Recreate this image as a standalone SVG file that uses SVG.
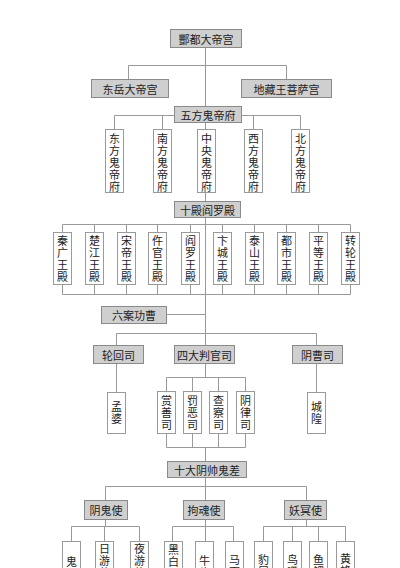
<svg xmlns="http://www.w3.org/2000/svg" width="400" height="568" viewBox="0 0 400 568">
<style>
text{font-family:"Noto Sans CJK SC","Noto Sans CJK TC",sans-serif;font-size:11px;fill:#222;text-anchor:middle;dominant-baseline:central}
text.v{writing-mode:vertical-rl;letter-spacing:1px}
.g{fill:#cfcfcf;stroke:#8a8a8a;stroke-width:1}
.w{fill:#fff;stroke:#9a9a9a;stroke-width:1}
#connectors line,#connectors polyline{stroke:#9a9a9a;stroke-width:1;fill:none}
</style>
<rect width="400" height="568" fill="#fff"/>
<g id="connectors">
<line x1="205.5" y1="47" x2="205.5" y2="106"/>
<polyline points="128.5,79 128.5,65.5 286.5,65.5 286.5,79"/>
<line x1="114.5" y1="115.5" x2="300.5" y2="115.5"/>
<line x1="114.5" y1="115.5" x2="114.5" y2="129"/>
<line x1="162.5" y1="115.5" x2="162.5" y2="129"/>
<line x1="205.5" y1="115.5" x2="205.5" y2="129"/>
<line x1="253.5" y1="115.5" x2="253.5" y2="129"/>
<line x1="300.5" y1="115.5" x2="300.5" y2="129"/>
<line x1="205.5" y1="192" x2="205.5" y2="201"/>
<line x1="205.5" y1="217" x2="205.5" y2="345"/>
<line x1="62.5" y1="224.5" x2="350.5" y2="224.5"/>
<line x1="62.5" y1="294.5" x2="350.5" y2="294.5"/>
<line x1="62.5" y1="224.5" x2="62.5" y2="294.5"/>
<line x1="94.5" y1="224.5" x2="94.5" y2="294.5"/>
<line x1="126.5" y1="224.5" x2="126.5" y2="294.5"/>
<line x1="157.5" y1="224.5" x2="157.5" y2="294.5"/>
<line x1="190.5" y1="224.5" x2="190.5" y2="294.5"/>
<line x1="222.5" y1="224.5" x2="222.5" y2="294.5"/>
<line x1="254.5" y1="224.5" x2="254.5" y2="294.5"/>
<line x1="286.5" y1="224.5" x2="286.5" y2="294.5"/>
<line x1="318.5" y1="224.5" x2="318.5" y2="294.5"/>
<line x1="350.5" y1="224.5" x2="350.5" y2="294.5"/>
<line x1="166" y1="314.5" x2="205.5" y2="314.5"/>
<polyline points="116.5,345 116.5,333.5 316.5,333.5 316.5,345"/>
<line x1="116.5" y1="363" x2="116.5" y2="392"/>
<line x1="316.5" y1="363" x2="316.5" y2="392"/>
<line x1="205.5" y1="363" x2="205.5" y2="377.5"/>
<line x1="166.5" y1="377.5" x2="245.5" y2="377.5"/>
<line x1="166.5" y1="447.5" x2="245.5" y2="447.5"/>
<line x1="166.5" y1="377.5" x2="166.5" y2="447.5"/>
<line x1="192.5" y1="377.5" x2="192.5" y2="447.5"/>
<line x1="218.5" y1="377.5" x2="218.5" y2="447.5"/>
<line x1="245.5" y1="377.5" x2="245.5" y2="447.5"/>
<line x1="205.5" y1="447.5" x2="205.5" y2="461"/>
<line x1="205.5" y1="477" x2="205.5" y2="500"/>
<polyline points="105.5,500 105.5,486.5 306.5,486.5 306.5,500"/>
<line x1="105.5" y1="519" x2="105.5" y2="526.5"/>
<line x1="71.5" y1="526.5" x2="139.5" y2="526.5"/>
<line x1="71.5" y1="526.5" x2="71.5" y2="541"/>
<line x1="104.5" y1="526.5" x2="104.5" y2="541"/>
<line x1="139.5" y1="526.5" x2="139.5" y2="541"/>
<line x1="205.5" y1="519" x2="205.5" y2="541"/>
<line x1="172.5" y1="526.5" x2="233.5" y2="526.5"/>
<line x1="172.5" y1="526.5" x2="172.5" y2="541"/>
<line x1="233.5" y1="526.5" x2="233.5" y2="541"/>
<line x1="306.5" y1="519" x2="306.5" y2="526.5"/>
<line x1="263.5" y1="526.5" x2="345.5" y2="526.5"/>
<line x1="263.5" y1="526.5" x2="263.5" y2="541"/>
<line x1="292.5" y1="526.5" x2="292.5" y2="541"/>
<line x1="318.5" y1="526.5" x2="318.5" y2="541"/>
<line x1="345.5" y1="526.5" x2="345.5" y2="541"/>
</g>

<g id="n-fengdu"><rect class="g" x="170.5" y="29.5" width="71" height="18"/><text x="206" y="38.5">酆都大帝宫</text></g>
<g id="n-dongyue"><rect class="g" x="91.5" y="79.5" width="77" height="18"/><text x="130" y="88.5">东岳大帝宫</text></g>
<g id="n-dizang"><rect class="g" x="241.5" y="79.5" width="90" height="18"/><text x="286.5" y="88.5">地藏王菩萨宫</text></g>
<g id="n-wufang"><rect class="g" x="174.5" y="106.5" width="67" height="16"/><text x="208" y="114.5">五方鬼帝府</text></g>

<g id="n-dongfang"><rect class="w" x="105.5" y="129.5" width="18" height="63"/><text class="v" x="114.5" y="163.5">东方鬼帝府</text></g>
<g id="n-nanfang"><rect class="w" x="153.5" y="129.5" width="18" height="63"/><text class="v" x="162.5" y="163.5">南方鬼帝府</text></g>
<g id="n-zhongyang"><rect class="w" x="197.5" y="129.5" width="18" height="63"/><text class="v" x="206.5" y="163.5">中央鬼帝府</text></g>
<g id="n-xifang"><rect class="w" x="244.5" y="129.5" width="18" height="63"/><text class="v" x="253.5" y="163.5">西方鬼帝府</text></g>
<g id="n-beifang"><rect class="w" x="291.5" y="129.5" width="18" height="63"/><text class="v" x="300.5" y="163.5">北方鬼帝府</text></g>

<g id="n-shidian"><rect class="g" x="174.5" y="201.5" width="66" height="16"/><text x="207.5" y="209.5">十殿阎罗殿</text></g>

<g id="n-qinguang"><rect class="w" x="53.5" y="232.5" width="18" height="52"/><text class="v" x="62.5" y="259">秦广王殿</text></g>
<g id="n-chujiang"><rect class="w" x="85.5" y="232.5" width="18" height="52"/><text class="v" x="94.5" y="259">楚江王殿</text></g>
<g id="n-songdi"><rect class="w" x="117.5" y="232.5" width="18" height="52"/><text class="v" x="126.5" y="259">宋帝王殿</text></g>
<g id="n-wuguan"><rect class="w" x="148.5" y="232.5" width="18" height="52"/><text class="v" x="157.5" y="259">仵官王殿</text></g>
<g id="n-yanluo"><rect class="w" x="181.5" y="232.5" width="18" height="52"/><text class="v" x="190.5" y="259">阎罗王殿</text></g>
<g id="n-biancheng"><rect class="w" x="213.5" y="232.5" width="18" height="52"/><text class="v" x="222.5" y="259">卞城王殿</text></g>
<g id="n-taishan"><rect class="w" x="245.5" y="232.5" width="18" height="52"/><text class="v" x="254.5" y="259">泰山王殿</text></g>
<g id="n-dushi"><rect class="w" x="277.5" y="232.5" width="18" height="52"/><text class="v" x="286.5" y="259">都市王殿</text></g>
<g id="n-pingdeng"><rect class="w" x="309.5" y="232.5" width="18" height="52"/><text class="v" x="318.5" y="259">平等王殿</text></g>
<g id="n-zhuanlun"><rect class="w" x="341.5" y="232.5" width="18" height="52"/><text class="v" x="350.5" y="259">转轮王殿</text></g>

<g id="n-liuan"><rect class="g" x="101.5" y="306.5" width="65" height="17"/><text x="134" y="315">六案功曹</text></g>
<g id="n-lunhui"><rect class="g" x="93.5" y="345.5" width="50" height="18"/><text x="118.5" y="354.5">轮回司</text></g>
<g id="n-sida"><rect class="g" x="174.5" y="345.5" width="60" height="18"/><text x="204.5" y="354.5">四大判官司</text></g>
<g id="n-yincao"><rect class="g" x="292.5" y="345.5" width="50" height="18"/><text x="317.5" y="354.5">阴曹司</text></g>

<g id="n-mengpo"><rect class="w" x="107.5" y="392.5" width="18" height="41"/><text class="v" x="116.5" y="413">孟婆</text></g>
<g id="n-shangshan"><rect class="w" x="157.5" y="391.5" width="18" height="42"/><text class="v" x="166.5" y="413">赏善司</text></g>
<g id="n-fae"><rect class="w" x="183.5" y="391.5" width="18" height="42"/><text class="v" x="192.5" y="413">罚恶司</text></g>
<g id="n-chacha"><rect class="w" x="209.5" y="391.5" width="18" height="42"/><text class="v" x="218.5" y="413">查察司</text></g>
<g id="n-yinlv"><rect class="w" x="236.5" y="391.5" width="18" height="42"/><text class="v" x="245.5" y="413">阴律司</text></g>
<g id="n-chenghuang"><rect class="w" x="307.5" y="392.5" width="18" height="41"/><text class="v" x="316.5" y="413">城隍</text></g>

<g id="n-shida"><rect class="g" x="167.5" y="461.5" width="79" height="16"/><text x="207" y="469.5">十大阴帅鬼差</text></g>
<g id="n-yingui"><rect class="g" x="84.5" y="500.5" width="43" height="19"/><text x="106" y="510">阴鬼使</text></g>
<g id="n-gouhun"><rect class="g" x="183.5" y="500.5" width="41" height="19"/><text x="204" y="510">拘魂使</text></g>
<g id="n-yaoming"><rect class="g" x="284.5" y="500.5" width="42" height="19"/><text x="305.5" y="510">妖冥使</text></g>

<g id="n-guiwang"><rect class="w" x="62.5" y="541.5" width="18" height="40"/><text class="v" x="71.5" y="568.5">鬼王</text></g>
<g id="n-riyou"><rect class="w" x="95.5" y="541.5" width="18" height="40"/><text class="v" x="104.5" y="561.5">日游使</text></g>
<g id="n-yeyou"><rect class="w" x="130.5" y="541.5" width="18" height="40"/><text class="v" x="139.5" y="561.5">夜游使</text></g>
<g id="n-heibai"><rect class="w" x="164.5" y="541.5" width="18" height="40"/><text class="v" x="173.5" y="568.5">黑白无常</text></g>
<g id="n-niutou"><rect class="w" x="195.5" y="541.5" width="18" height="40"/><text class="v" x="204.5" y="567.5">牛头</text></g>
<g id="n-mamian"><rect class="w" x="225.5" y="541.5" width="18" height="40"/><text class="v" x="234.5" y="566.5">马面</text></g>
<g id="n-baowei"><rect class="w" x="254.5" y="541.5" width="18" height="40"/><text class="v" x="263.5" y="566.5">豹尾</text></g>
<g id="n-niaozui"><rect class="w" x="283.5" y="541.5" width="18" height="40"/><text class="v" x="292.5" y="566.5">鸟嘴</text></g>
<g id="n-yusai"><rect class="w" x="309.5" y="541.5" width="18" height="40"/><text class="v" x="318.5" y="566.5">鱼鳃</text></g>
<g id="n-huangfeng"><rect class="w" x="336.5" y="541.5" width="18" height="40"/><text class="v" x="345.5" y="565.5">黄蜂</text></g>
</svg>
